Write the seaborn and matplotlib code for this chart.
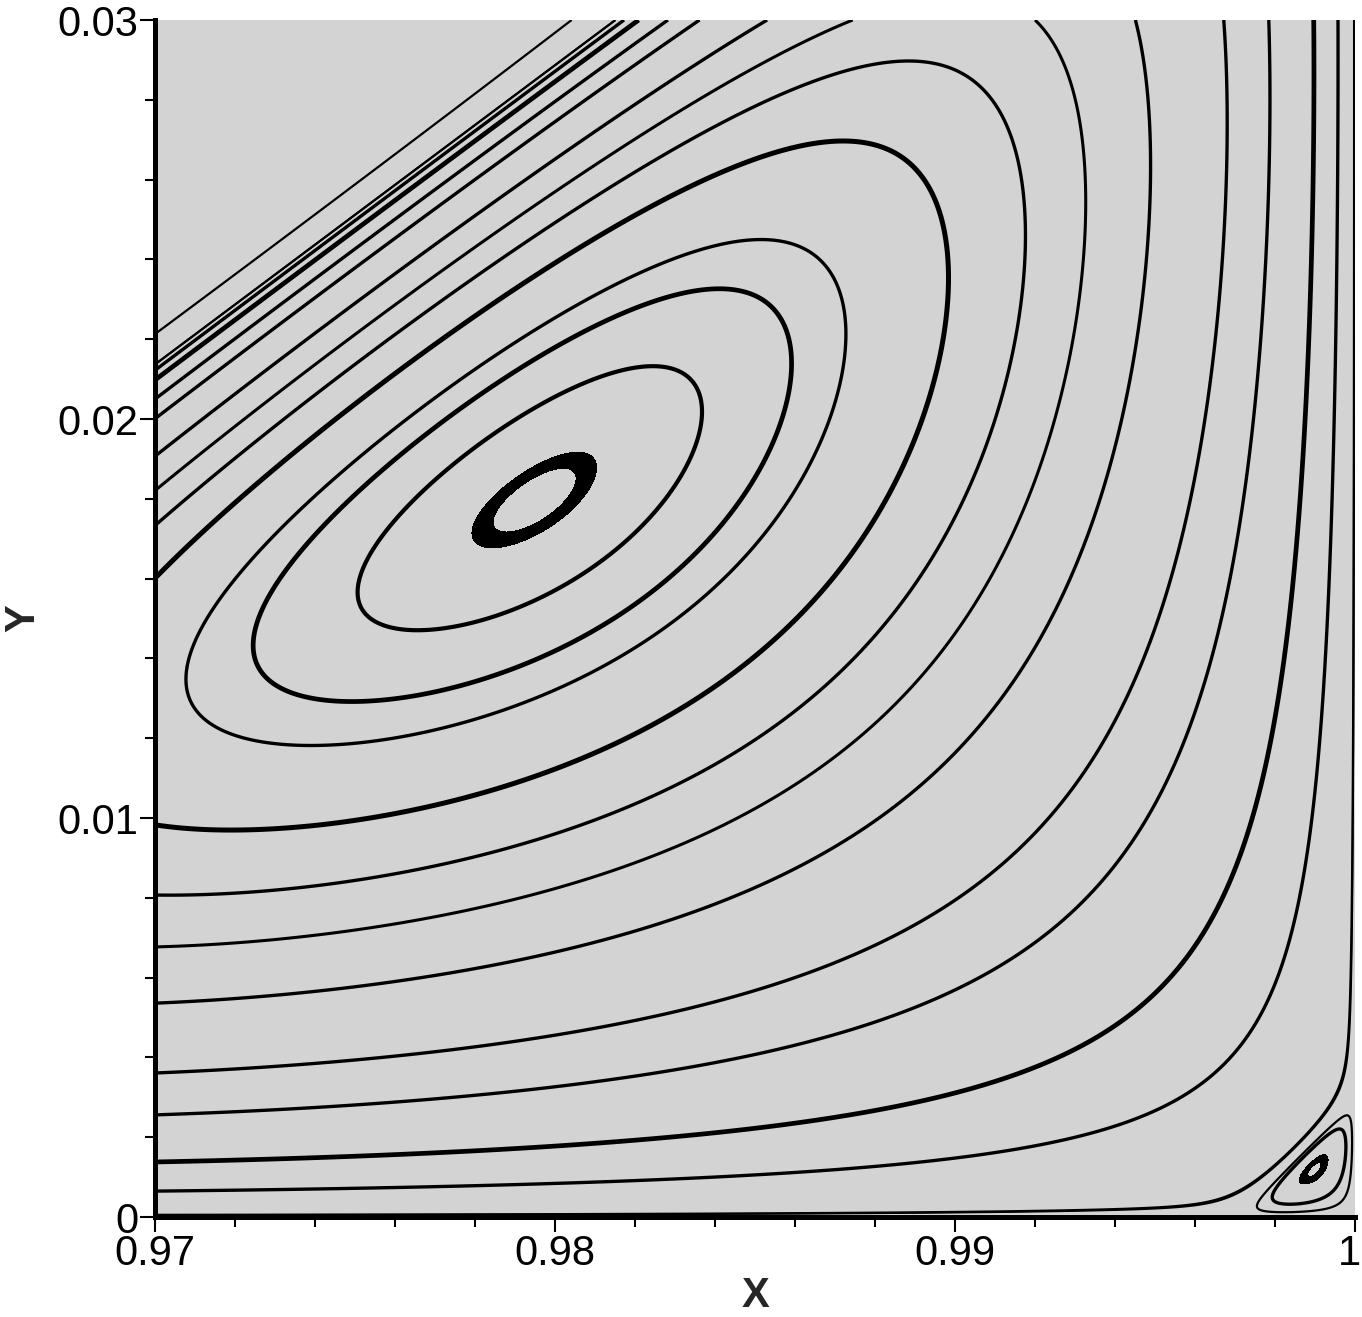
import numpy as np
import matplotlib
matplotlib.use('Agg')
import matplotlib.pyplot as plt
import matplotlib.transforms as mtransforms
from matplotlib.ticker import MultipleLocator
import seaborn as sns

sns.set_style('white')
plt.rcParams['font.family'] = ['Liberation Sans', 'DejaVu Sans']

# Axis ticks
x_ticks = [0.97, 0.98, 0.99, 1.0]
x_labels = ['0.97', '0.98', '0.99', '1']
y_ticks = [0, 0.01, 0.02, 0.03]
y_labels = ['0', '0.01', '0.02', '0.03']

# Streamline seed points (one point per drawn streamline)
# lines that cross the left edge (x = 0.97) low down and leave through the top
lower_y = [0.00677, 0.00536, 0.00361, 0.00256, 0.00138, 0.00065]
lower_lw = [2.2, 2.4, 2.4, 2.4, 3.4, 2.4]
# lines that enter and leave through the left edge, around the vortex
wrap_y = [0.00807, 0.00983]
wrap_lw = [2.4, 3.6]
# closed loops round the main vortex (left-most point of each loop)
loop_x = [0.9708, 0.9725, 0.9753]
loop_y = [0.01378, 0.01471, 0.01647]
loop_lw = [2.4, 3.4, 3.0]
# lines hugging the right wall
wall_x = [0.99980, 0.99993]
wall_y = [0.00419, 0.00794]
wall_lw = [1.6, 1.4]
# thin line at the top left
outer_y = [0.02213]
outer_lw = [1.6]
# thick ring at the vortex centre (outer / inner edge)
ring_x = [0.97838, 0.97875]
ring_y = [0.01797, 0.01797]
# corner eddy loops and its ring
eddy_x = [0.99755, 0.99793]
eddy_y = [0.00025, 0.00050]
eddy_lw = [1.6, 2.4]
eddy_ring_x = [0.99873, 0.99886]
eddy_ring_y = [0.00118, 0.00118]


# Model stream function for the corner region, walls at y = 0 and x = 1
def stream(x, y):
    s = np.clip((1.0 - x) / 0.03, 0, None)
    t = np.clip(y / 0.03, 0, None)
    w = 0.6 * s + 0.8 * t
    h = 1 - (w / 1.17) ** 3
    eddy = np.tanh((s + t - 0.098) / 0.04)
    return s ** 1.082 * t ** 1.264 * h * eddy


xg = np.linspace(0.97, 1.0, 1501)
yg = np.linspace(0.0, 0.03, 1501)
X, Y = np.meshgrid(xg, yg)
psi = stream(X, Y)

# levels through the seed points
seed_x = [0.97] * len(lower_y) + [0.97] * len(wrap_y) + loop_x + wall_x + [0.97] * len(outer_y)
seed_y = lower_y + wrap_y + loop_y + wall_y + outer_y
seed_lw = lower_lw + wrap_lw + loop_lw + wall_lw + outer_lw
lev = stream(np.array(seed_x), np.array(seed_y))
order = np.argsort(lev)
lev = lev[order]
lws = np.array(seed_lw)[order]

fig = plt.figure(figsize=(13.62, 13.17), dpi=100)
ax = fig.add_axes([0.1138, 0.0759, 0.8811, 0.9089])
ax.set_facecolor('#d3d3d3')

ax.contour(X, Y, psi, levels=lev, colors='k', linewidths=lws,
           negative_linestyles='solid')

ring = np.sort(stream(np.array(ring_x), np.array(ring_y)))
ax.contourf(X, Y, psi, levels=ring, colors='k')

# corner eddy on a finer grid, only the reversed (negative) part
xe = np.linspace(0.995, 1.0, 801)
ye = np.linspace(0.0, 0.005, 801)
XE, YE = np.meshgrid(xe, ye)
psi_e = stream(XE, YE)
psi_e = np.ma.masked_where(psi_e > 0, psi_e)
elev = stream(np.array(eddy_x), np.array(eddy_y))
eorder = np.argsort(elev)
ax.contour(XE, YE, psi_e, levels=elev[eorder], colors='k',
           linewidths=np.array(eddy_lw)[eorder], negative_linestyles='solid')
ering = np.sort(stream(np.array(eddy_ring_x), np.array(eddy_ring_y)))
ax.contourf(XE, YE, psi_e, levels=ering, colors='k')

ax.set_xlim(0.97, 1.0)
ax.set_ylim(0, 0.03)
ax.set_xticks(x_ticks)
ax.set_xticklabels(x_labels)
ax.set_yticks(y_ticks)
ax.set_yticklabels(y_labels)
ax.xaxis.set_minor_locator(MultipleLocator(0.002))
ax.yaxis.set_minor_locator(MultipleLocator(0.002))
ax.tick_params(which='major', direction='out', length=11, width=1.5,
               labelsize=30, pad=1, color='k', labelcolor='k')
ax.tick_params(which='minor', direction='out', length=7, width=1.5, color='k')
ax.tick_params(axis='x', which='both', bottom=True, top=False)
ax.tick_params(axis='y', which='both', left=True, right=False)

# nudge the last x label ("1") so it stays inside the figure
last = ax.get_xticklabels()[-1]
last.set_transform(last.get_transform() + mtransforms.ScaledTranslation(-4 / 72, 0, fig.dpi_scale_trans))

for side in ['top', 'right']:
    ax.spines[side].set_visible(False)
for side in ['left', 'bottom']:
    ax.spines[side].set_linewidth(3.6)
    ax.spines[side].set_color('k')
    ax.spines[side].set_zorder(5)

ax.set_xlabel('X', fontsize=30, fontweight='bold', labelpad=2)
ax.set_ylabel('Y', fontsize=30, fontweight='bold', labelpad=10)

fig.savefig('out.png', dpi=100)
